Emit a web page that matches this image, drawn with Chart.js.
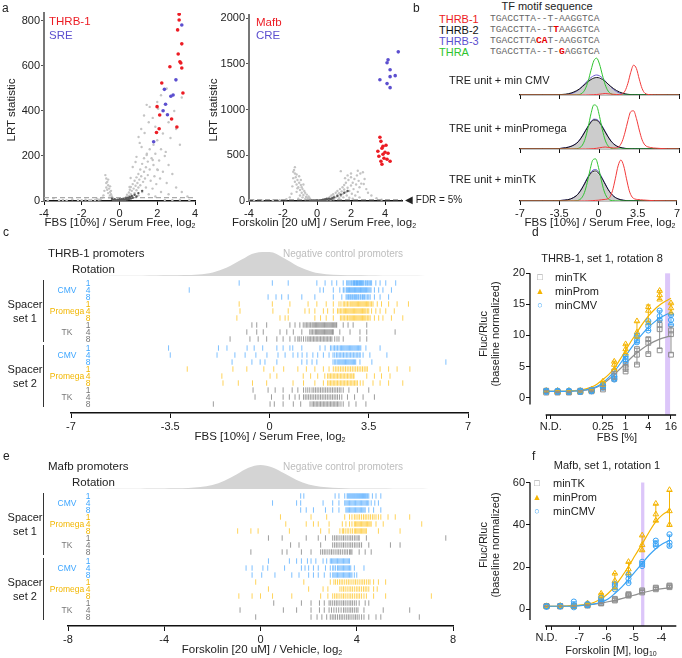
<!DOCTYPE html>
<html><head><meta charset="utf-8">
<script src="https://cdn.jsdelivr.net/npm/chart.js@4.4.1/dist/chart.umd.min.js"></script>
<style>
html,body{margin:0;padding:0;background:#fff}
#fig{position:relative;width:682px;height:658px;overflow:hidden;font-family:"Liberation Sans",Arial,sans-serif;color:#222}
#fig canvas{position:absolute}
.t{position:absolute;white-space:nowrap;font-size:11px;line-height:1}
.mono{font-family:"Liberation Mono","DejaVu Sans Mono",monospace;font-size:9.6px;color:#666}
sub{font-size:7px;vertical-align:-2px;line-height:0}
</style></head><body><div id="fig"></div><script>
// ---------- panel a: volcano points [log2 fold change, LRT] ----------
const fbsGray = [[-0.3,5],[-0.35,12],[-0.4,20],[-0.45,30],[-0.5,40],[-0.5,25],[-0.55,55],[-0.55,15],[-0.6,70],[-0.6,35],[-0.65,85],[-0.65,50],[-0.7,100],[-0.7,60],[-0.75,115],[-0.7,80],[-0.8,45],[-0.85,25],[-0.9,15],[-1.0,8],[-1.2,10],[-1.5,5],[-2.0,3],[-2.5,8],[-3.0,5],[-3.5,12],[-1.8,6],[-0.45,45],[-0.6,95],[-0.5,65],
  [0.3,8],[0.35,18],[0.4,28],[0.45,12],[0.5,38],[0.5,22],[0.55,50],[0.6,30],[0.6,62],[0.65,45],[0.7,75],[0.7,20],[0.75,55],[0.8,90],[0.8,35],[0.85,68],[0.9,105],[0.9,48],[0.95,80],[1.0,120],[1.0,60],[1.0,25],[1.05,95],[1.1,140],[1.1,70],[1.15,110],[1.2,165],[1.2,40],[1.25,85],[1.3,130],[1.3,190],[1.35,100],[1.4,60],[1.4,150],[1.45,210],[1.5,115],[1.5,175],[1.55,30],[1.6,140],[1.6,230],[1.65,90],[1.7,190],[1.75,55],[1.8,160],[1.8,250],[1.85,110],[1.9,210],[1.95,75],[2.0,140],[2.0,270],[2.1,180],[2.15,100],[2.2,230],[2.3,130],[2.4,200],[2.5,80],[2.6,160],[2.8,120],[3.0,60],[3.3,40],[3.6,20],[2.2,40],[1.9,20],[2.6,30],
  [0.53,62],[0.59,102],[0.7,151],[0.85,173],[0.9,196],[1.01,284],[1.07,258],[1.17,240],[1.33,302],[1.44,427],[1.6,418],[1.76,369],[1.44,204],[1.76,182],[2.03,138],[2.45,218],[1.3,380],[1.55,350],[1.9,330],[2.0,440],[2.2,470],[2.3,300],[2.6,350],[2.7,280],[2.9,400],[3.0,320],[3.2,250],[2.5,500],[3.3,460],[1.15,320],[2.05,410],
  [-3.8,2],[-3.2,3],[-2.8,2],[-2.2,4],[-1.6,3],[-1.3,4],[-1.1,6],[2.4,5],[2.8,4],[3.2,6],[3.7,3]];
const fbsDark = [[-0.3,2],[-0.2,4],[-0.15,1],[-0.1,6],[-0.05,3],[0,2],[0.05,5],[0.1,8],[0.1,1],[0.15,4],[0.2,10],[0.25,6],[0.3,3],[0.35,12],[0.4,7],[0.45,15],[0.5,9],[0.55,18],[0.6,11],[0.65,22],[0.7,14],[0.8,28],[0.9,20],[1.0,35],[1.2,45],[-0.25,8],[-0.35,5],[-0.4,10],[0,8],[0.2,2]];
const fbsThrb1 = [[3.16,830],[3.16,804],[3.08,760],[3.3,698],[3.11,653],[3.2,618],[3.25,613],[3.3,591],[2.67,596],[2.24,524],[3.36,480],[1.99,419],[2.13,382],[2.1,321],[1.96,304],[2.76,364],[3.04,329]];
const fbsSre = [[3.3,782],[2.99,538],[2.38,496],[2.84,471],[2.72,465],[2.44,430],[2.31,401],[2.54,383],[1.81,263]];
const fskGray = [[-0.3,8],[-0.4,20],[-0.45,35],[-0.5,50],[-0.55,30],[-0.6,70],[-0.65,45],[-0.7,90],[-0.7,20],[-0.75,110],[-0.8,65],[-0.85,130],[-0.85,40],[-0.9,150],[-0.9,90],[-0.95,175],[-1.0,120],[-1.0,60],[-1.05,200],[-1.1,150],[-1.1,25],[-1.15,230],[-1.2,180],[-1.2,100],[-1.25,260],[-1.3,300],[-1.3,210],[-1.35,340],[-1.3,370],[-1.4,250],[-1.45,160],[-1.5,80],[-1.2,290],[-1.05,270],[-1.4,320],[-1.6,40],[-1.8,20],[-2.2,10],[-2.6,5],[-3.2,4],[-3.7,2],[-0.95,230],[-1.15,140],[-0.8,180],
  [0.3,5],[0.4,12],[0.5,20],[0.6,10],[0.6,30],[0.7,25],[0.75,45],[0.8,15],[0.85,60],[0.9,35],[0.95,75],[1.0,50],[1.0,20],[1.1,90],[1.1,40],[1.2,65],[1.2,110],[1.3,30],[1.3,85],[1.35,130],[1.4,326],[1.4,55],[1.45,105],[1.5,150],[1.5,75],[1.55,40],[1.6,125],[1.6,175],[1.7,95],[1.7,200],[1.75,60],[1.8,145],[1.85,230],[1.9,110],[1.9,35],[2.0,170],[2.0,260],[2.05,80],[2.1,200],[2.15,130],[2.2,240],[2.25,60],[2.3,180],[2.35,280],[2.4,100],[2.45,220],[2.5,150],[2.55,300],[2.6,190],[2.7,315],[2.75,185],[2.8,240],[2.9,130],[3.0,90],[3.2,60],[3.5,30],[3.8,15],[2.5,40],[2.1,25],[1.65,250],[2.4,330],[2.0,300],[1.8,280]];
const fskDark = [[-0.2,2],[-0.1,4],[0,1],[0,5],[0.1,3],[0.15,7],[0.2,2],[0.25,10],[0.3,4],[0.35,14],[0.4,8],[0.45,18],[0.5,12],[0.55,22],[0.6,16],[0.7,26],[0.8,20],[0.9,30],[1.0,40],[1.2,55],[1.4,70],[1.6,90],[1.8,110],[-0.3,6],[-0.4,3]];
const fskMafb = [[3.7,696],[3.76,652],[3.88,598],[4.06,609],[3.82,576],[3.58,543],[4.0,533],[3.88,511],[4.18,522],[3.64,489],[3.94,467],[4.3,435],[3.76,435],[3.82,402],[4.12,457]];
const fskCre = [[4.78,1630],[4.18,1543],[4.12,1511],[4.3,1435],[4.6,1370],[4.3,1359],[3.7,1326],[4.12,1283],[4.3,1239]];
const fdrLrt = 15;
const volcanoTicksX = [-4, -2, 0, 2, 4];
const fbsTicksY = [0, 200, 400, 600, 800];
const fskTicksY = [0, 500, 1000, 1500, 2000];

// ---------- panel b: motifs and densities ----------
const motifNames = ['THRB-1', 'THRB-2', 'THRB-3', 'THRA'];
const motifSeqs = ['TGACCTTA--T-AAGGTCA', 'TGACCTTA--TTAAGGTCA', 'TGACCTTACAT-AAGGTCA', 'TGACCTTA--T-GAGGTCA'];
const motifHits = [[], [11], [8, 9], [12]];
const densRows = ['TRE unit + min CMV', 'TRE unit + minPromega', 'TRE unit + minTK'];
const densX = [-7,-5,-4,-3.5,-3,-2.5,-2,-1.75,-1.5,-1.25,-1,-0.75,-0.5,-0.25,0,0.25,0.5,0.75,1,1.25,1.5,1.75,2,2.25,2.5,2.75,3,3.25,3.5,3.75,4,4.5,5,6,7];
const densNeg = [
  [0,0,0,0.1,0.4,1.5,4.0,5.9,8.3,10.8,13.3,15.4,16.7,17,16.3,14.6,12.3,9.8,7.3,5.1,3.4,2.1,1.2,0.7,0.3,0.2,0.1,0,0,0,0,0,0,0,0],
  [0,0,0.1,0.3,0.8,2.0,5.2,8.4,12.6,17.6,22.5,26.7,28.8,28.5,26,21.7,16.5,11.6,7.4,4.4,2.4,1.4,0.8,0.5,0.3,0.2,0.1,0,0,0,0,0,0,0,0],
  [0,0,0.1,0.3,0.6,1.6,4.6,7.5,11.6,16.5,21.7,26,28.5,28.8,26.7,22.5,17.6,12.6,8.2,5.0,2.9,1.6,0.8,0.4,0.2,0.1,0,0,0,0,0,0,0,0,0]];
const densThrb2 = [
  [0,0,0.1,0.3,0.8,2.0,4.4,6.2,8.5,11,13.4,15.5,16.9,17.5,17,15.5,13.4,11,8.5,6.3,4.5,3,2,1.2,0.7,0.4,0.2,0.1,0,0,0,0,0,0,0],
  [0,0,0.2,0.5,1.2,2.6,5.8,8.9,13,17.8,22.6,26.8,29,28.7,26.3,22,17,12.2,8,5,3,1.8,1.1,0.6,0.4,0.2,0.1,0,0,0,0,0,0,0,0],
  [0,0,0.1,0.4,0.9,2,5,7.9,12,16.9,22.2,26.7,29.5,30,28,23.8,18.8,13.6,9.1,5.8,3.5,2.1,1.2,0.7,0.4,0.2,0.1,0,0,0,0,0,0,0,0]];
const densThrb3 = [
  [0,0,0,0.1,0.4,1.4,3.9,6.0,8.8,11.8,14.8,17.4,19.3,20,19.2,17.1,14,10.8,7.9,5.3,3.4,2,1.1,0.6,0.3,0.1,0,0,0,0,0,0,0,0,0],
  [0,0,0.2,0.5,1.3,2.8,6,9.2,13.4,18.3,23.2,27.5,29.8,29.6,27.2,22.8,17.6,12.6,8.3,5.2,3.1,1.9,1.1,0.6,0.4,0.2,0.1,0,0,0,0,0,0,0,0],
  [0,0,0.1,0.4,0.9,2,5.1,8.1,12.4,17.5,23,27.8,30.8,31.5,29.3,24.8,19.4,14,9.3,5.9,3.6,2.1,1.2,0.7,0.4,0.2,0.1,0,0,0,0,0,0,0,0]];
const densThra = [
  [0,0,0,0,0,0,0.1,0.5,2.1,6.1,13.9,24.7,34.2,36.8,30.9,20.2,10.3,4.1,1.3,0.3,0.1,0,0,0,0,0,0,0,0,0,0,0,0,0,0],
  [0,0,0,0,0,0,0.3,1.2,4.0,10.6,21.9,35.2,44.1,43,32.7,19.3,8.9,3.2,0.9,0.2,0,0,0,0,0,0,0,0,0,0,0,0,0,0,0],
  [0,0,0,0,0,0,0.2,0.9,3.1,8.5,18.5,31.2,41.1,42.1,33.7,20.9,10.1,3.8,1.1,0.3,0.1,0,0,0,0,0,0,0,0,0,0,0,0,0,0]];
const densThrb1 = [
  [0,0,0,0,0,0,0,0,0,0,0.1,0.2,0.3,0.5,0.8,1.2,1.5,1.2,0.9,0.7,0.5,0.4,1.0,4.1,11.7,22.6,29.8,26.5,15.9,6.5,1.8,0.3,0.1,0,0],
  [0,0,0,0,0,0,0,0,0,0,0.1,0.2,0.4,0.7,1.2,1.7,2.0,1.7,1.3,1.0,1.1,2.8,7.7,16.8,28.3,37.3,38.2,30.5,19,9.2,4.0,1.5,0.8,0.2,0],
  [0,0,0,0,0,0,0,0,0,0,0.1,0.2,0.4,0.6,0.8,1.2,1.5,1.9,3.5,10.2,22.2,35.1,41,35.1,22.2,10.2,4,2,1.5,1.2,1,0.6,0.3,0.1,0]];
const densTicks = [-7, -3.5, 0, 3.5, 7];

// ---------- panels c/e: per-promoter log2 ratios, rotations 1, 4, 8 ----------
const promoters = ['CMV', 'Promega', 'TK'];
const rotations = ['1', '4', '8'];
const thrbS1Cmv = [
  [-1.07,0.1,0.66,1.67,1.96,2.2,2.37,2.6,2.72,2.8,2.88,2.95,3.0,3.05,3.1,3.15,3.2,3.25,3.3,3.38,3.45,3.52,3.6,3.75,3.9,4.1,4.45,2.76,2.84,2.91,2.97,3.02,3.07,3.12,3.17,3.22,3.27,3.33,3.41,3.48,3.56],
  [-2.83,1.78,1.9,2.25,2.48,2.6,2.7,2.76,2.82,2.88,2.94,3.0,3.06,3.12,3.18,3.24,3.3,3.36,3.42,3.5,3.58,3.7,3.85,4.0,4.3,2.63,2.73,2.79,2.85,2.91,2.97,3.03,3.09,3.15,3.21,3.27,3.33,3.39,3.46,3.54],
  [-0.05,0.23,0.43,0.66,1.14,1.6,2.25,2.55,2.7,2.78,2.85,2.92,2.99,3.05,3.12,3.2,3.28,3.35,3.45,3.55,3.7,3.9,4.2,2.74,2.81,2.88,2.95,3.02,3.08,3.15,3.23,3.31,3.4,3.5]];
const thrbS1Prom = [
  [-1.07,0.1,0.72,1.36,1.67,2.0,2.25,2.45,2.6,2.7,2.8,2.9,2.98,3.06,3.14,3.22,3.3,3.38,3.46,3.55,3.65,3.8,3.95,4.2,4.5,4.9,2.52,2.65,2.75,2.85,2.94,3.02,3.1,3.18,3.26,3.34,3.42,3.5,3.6],
  [-1.04,0.12,0.66,1.25,1.4,1.6,1.9,2.05,2.25,2.4,2.5,2.6,2.68,2.76,2.84,2.92,3.0,3.08,3.16,3.24,3.32,3.4,3.5,3.6,3.75,3.9,4.1,4.4,2.45,2.55,2.64,2.72,2.8,2.88,2.96,3.04,3.12,3.2,3.28,3.36,3.45],
  [-1.15,0.37,0.55,0.66,1.6,1.8,2.0,2.25,2.5,2.6,2.7,2.8,2.88,2.96,3.04,3.12,3.2,3.28,3.36,3.45,3.55,3.7,3.85,4.0,4.3,4.7,2.55,2.65,2.75,2.84,2.92,3.0,3.08,3.16,3.24,3.32,3.4,3.5]];
const thrbS1Tk = [
  [-0.62,-0.45,-0.1,0.72,0.9,1.07,1.19,1.3,1.4,1.5,1.58,1.66,1.74,1.82,1.9,1.98,2.06,2.14,2.22,2.3,2.37,2.6,2.77,2.95,3.43,1.25,1.35,1.45,1.54,1.62,1.7,1.78,1.86,1.94,2.02,2.1,2.18,2.26,2.34],
  [-0.8,-0.45,-0.22,0.37,0.61,0.84,1.14,1.42,1.52,1.62,1.7,1.78,1.86,1.94,2.02,2.1,2.18,2.25,2.48,2.84,3.19,3.43,4.43,1.47,1.57,1.66,1.74,1.82,1.9,1.98,2.06,2.14,2.22],
  [-1.39,-0.69,-0.4,-0.1,0.26,0.48,0.72,0.9,1.05,1.2,1.35,1.45,1.55,1.65,1.75,1.85,1.95,2.05,2.15,2.3,2.45,2.6,3.19,3.43,1.0,1.12,1.28,1.4,1.5,1.6,1.7,1.8,1.9,2.0,2.1,2.2,2.38]];
const thrbS2Cmv = [
  [-3.56,-1.8,-1.5,-0.79,-0.54,-0.24,0.26,0.48,0.72,0.82,1.14,1.78,1.96,2.15,2.3,2.4,2.5,2.58,2.66,2.74,2.82,2.9,2.98,3.06,3.14,3.22,3.4,3.9,2.2,2.27,2.35,2.45,2.54,2.62,2.7,2.78,2.86,2.94,3.02,3.1,3.18],
  [-3.5,-1.85,-1.22,-0.86,-0.48,-0.09,0.3,0.55,0.83,1.0,1.15,1.32,1.53,1.7,1.9,2.1,2.24,2.36,2.46,2.56,2.66,2.76,2.86,2.96,3.06,3.16,3.3,3.54,4.14,2.3,2.41,2.51,2.61,2.71,2.81,2.91,3.01,3.11,3.2],
  [-1.32,-0.62,-0.33,-0.16,0.26,1.14,1.32,1.5,1.67,2.24,2.34,2.44,2.52,2.6,2.68,2.76,2.84,2.92,3.0,3.19,3.61,6.22,2.3,2.39,2.48,2.56,2.64,2.72,2.8,2.88,2.96,3.04]];
const thrbS2Prom = [
  [-2.9,-1.29,-0.8,-0.2,0.15,0.5,1.0,1.3,1.6,1.9,2.1,2.25,2.38,2.5,2.62,2.74,2.86,2.98,3.1,3.22,3.34,3.45,3.9,4.2,4.5,4.95,2.32,2.44,2.56,2.68,2.8,2.92,3.04,3.16,3.28,3.4],
  [-1.68,0.02,0.26,1.19,1.45,1.7,1.95,2.1,2.2,2.3,2.4,2.5,2.6,2.7,2.8,2.9,2.95,3.43,3.7,3.95,4.25,2.05,2.15,2.25,2.35,2.45,2.55,2.65,2.75,2.85,2.98],
  [-1.64,-1.1,-0.6,-0.1,0.83,1.2,1.6,1.9,2.1,2.2,2.3,2.4,2.5,2.6,2.7,2.8,2.9,3.0,3.1,3.3,3.65,3.9,4.2,4.7,2.05,2.15,2.25,2.35,2.45,2.55,2.65,2.75,2.85,2.95,3.05,3.2]];
const thrbS2Tk = [
  [-0.58,-0.05,0.2,0.48,0.8,1.0,1.2,1.35,1.5,1.62,1.74,1.86,1.98,2.1,2.22,2.34,2.46,2.6,2.8,3.1,3.5,1.28,1.42,1.56,1.68,1.8,1.92,2.04,2.16,2.28,2.4,2.52],
  [-0.51,0.07,0.48,0.7,0.9,1.05,1.2,1.32,1.44,1.56,1.68,1.8,1.92,2.04,2.16,2.28,2.4,2.55,2.75,3.0,3.3,3.7,1.26,1.38,1.5,1.62,1.74,1.86,1.98,2.1,2.22,2.34,2.47],
  [-1.98,0.02,0.17,0.48,0.84,1.1,1.43,1.55,1.65,1.75,1.85,1.95,2.05,2.15,2.25,2.35,2.45,2.6,2.8,3.05,3.4,1.5,1.6,1.7,1.8,1.9,2.0,2.1,2.2,2.3,2.4,2.52]];
const mafbS1Cmv = [
  [1.67,1.8,3.1,3.26,3.5,3.6,3.68,3.76,3.84,3.92,4.0,4.08,4.16,4.24,4.32,4.4,4.5,4.65,4.8,5.0,3.64,3.72,3.8,3.88,3.96,4.04,4.12,4.2,4.28,4.36,4.45],
  [0.5,1.5,1.67,2.6,3.0,3.26,3.5,3.6,3.7,3.8,3.9,4.0,4.1,4.2,4.3,4.4,4.5,4.6,4.75,4.9,3.55,3.65,3.75,3.85,3.95,4.05,4.15,4.25,4.35,4.45],
  [1.67,1.9,2.2,2.7,3.0,3.26,3.55,3.65,3.75,3.85,3.95,4.05,4.15,4.25,4.35,4.5,4.7,5.0,3.6,3.7,3.8,3.9,4.0,4.1,4.2,4.3]];
const mafbS1Prom = [
  [0.83,2.1,2.75,3.5,3.7,3.9,4.05,4.2,4.35,4.5,4.65,4.8,5.0,5.3,5.6,6.2,3.8,3.97,4.12,4.28,4.42,4.57,4.72,4.9],
  [1.05,1.9,2.2,2.4,2.85,3.4,3.55,3.7,3.9,4.0,4.1,4.2,4.3,4.4,4.5,4.6,4.8,5.1,6.7,3.8,3.95,4.05,4.15,4.25,4.35,4.45,4.55],
  [-0.95,-0.4,-0.1,1.2,2.5,2.85,3.3,3.45,3.6,3.75,3.9,4.0,4.1,4.2,4.3,4.4,4.9,5.8,3.4,3.52,3.67,3.82,3.95,4.05,4.15,4.25,4.35]];
const mafbS1Tk = [
  [0.33,0.9,1.9,2.4,2.7,3.0,3.15,3.3,3.45,3.6,3.75,3.9,4.05,4.4,7.7,3.08,3.22,3.38,3.52,3.68,3.82,3.97,4.1],
  [1.25,1.6,2.5,3.0,3.15,3.3,3.45,3.6,3.75,3.9,4.05,4.2,4.5,5.4,5.8,3.08,3.22,3.38,3.52,3.68,3.82,3.97,4.12],
  [-0.4,0.9,1.1,1.7,2.1,2.5,2.65,2.8,2.95,3.1,3.25,3.4,3.55,3.7,3.8,4.1,4.35,4.6,2.58,2.72,2.88,3.02,3.18,3.32,3.48,3.62,3.75]];
const mafbS2Cmv = [
  [0.33,1.2,1.5,1.7,1.95,2.1,2.3,2.6,2.75,2.9,3.0,3.1,3.2,3.3,3.4,3.5,3.6,3.7,2.95,3.05,3.15,3.25,3.35,3.45,3.55,3.65],
  [-0.6,-0.35,0.1,0.3,1.0,1.7,1.85,2.0,2.2,2.4,2.7,2.9,3.05,3.2,3.3,3.4,3.5,3.6,3.75,3.9,4.3,3.0,3.12,3.25,3.35,3.45,3.55,3.65,3.7],
  [-0.35,0.05,0.6,1.3,1.6,2.0,2.2,2.4,2.65,2.9,3.0,3.1,3.2,3.3,3.4,3.5,3.6,3.7,3.8,4.0,3.05,3.15,3.25,3.35,3.45,3.55,3.65,3.75,3.9]];
const mafbS2Prom = [
  [-0.2,1.8,2.9,3.05,3.2,3.35,3.5,3.65,3.8,3.95,4.1,4.25,4.4,4.55,4.7,4.9,5.2,3.12,3.28,3.42,3.58,3.72,3.88,4.02,4.18,4.32,4.48],
  [0.33,2.0,2.6,2.8,3.3,3.45,3.6,3.75,3.9,4.05,4.2,4.35,4.5,4.7,4.85,3.38,3.52,3.68,3.82,3.98,4.12,4.28,4.42],
  [-0.9,-0.35,0.0,0.5,1.3,2.5,2.8,3.0,3.15,3.3,3.45,3.6,3.75,3.9,4.05,4.2,4.4,4.7,5.2,7.1,3.08,3.22,3.38,3.52,3.68,3.82,3.98,4.12,4.3]];
const mafbS2Tk = [
  [0.55,1.7,2.1,2.45,2.65,2.85,3.0,3.15,3.3,3.45,3.6,3.75,3.9,4.1,4.35,4.5,2.92,3.08,3.22,3.38,3.52,3.68,3.82,3.98],
  [-0.85,0.95,1.5,2.1,2.45,2.65,2.85,3.05,3.25,3.45,3.6,3.75,3.9,4.05,4.3,5.1,6.2,2.95,3.15,3.35,3.52,3.68,3.82,3.98],
  [-0.2,2.1,2.35,2.55,2.75,2.9,3.05,3.2,3.35,3.5,3.65,3.8,3.95,4.1,4.3,4.5,4.8,5.0,6.6,2.98,3.12,3.28,3.42,3.58,3.72,3.88,4.02,4.2]];
const cNegX = [-7,-6.5,-6,-5.5,-5,-4.5,-4,-3.5,-3,-2.5,-2,-1.5,-1,-0.5,0,0.5,1,1.5,2,2.5,3,3.5,4,4.5,5,5.5,6,6.5,7];
const cNegY = [0.04,0.07,0.1,0.16,0.24,0.34,0.47,0.64,0.9,1.56,3.6,8.4,16.2,23.1,23.9,17.9,9.8,4.3,1.8,1.0,0.7,0.5,0.36,0.26,0.17,0.11,0.07,0.05,0.03];
const eNegX = [-8,-7.5,-7,-6.5,-6,-5.5,-5,-4.5,-4,-3.5,-3,-2.5,-2,-1.5,-1,-0.5,0,0.5,1,1.5,2,2.5,3,3.5,4,4.5,5,5.5,6,6.5,7,7.5,8];
const eNegY = [0.04,0.06,0.1,0.14,0.2,0.28,0.37,0.49,0.61,0.8,1.1,2.0,4.0,8.3,14.6,21.2,24.0,21.6,15.4,9.0,4.5,2.3,1.3,0.85,0.62,0.5,0.38,0.28,0.2,0.14,0.1,0.06,0.04];
const cTicks = [-7, -3.5, 0, 3.5, 7];
const eTicks = [-8, -4, 0, 4, 8];

// ---------- panel d: FBS dose (log2 %, -7 = N.D.), replicates ----------
const dX = [-7,-6,-5,-4,-3,-2,-1,0,1,2,3,4];
const dTk = [[1.0,0.8,1.1],[0.9,1.0,0.8],[0.9,1.0,0.8],[1.0,0.9,1.1],[1.2,1.0,1.1],[1.6,1.3,1.9],[4.2,3.0,3.5],[5.3,4.2,4.8],[7.8,6.9,5.3],[9.4,8.8,7.0],[11.7,11.0,7.6],[10.8,10.2,6.9]];
const dProm = [[1.0,1.1,0.9],[1.0,1.1,0.9],[1.0,1.1,0.9],[1.0,1.1,0.9],[1.2,1.3,1.1],[2.2,1.8,2.6],[5.8,5.3,4.5],[7.8,7.1,8.6],[12.3,10.5,9.8],[14.6,14.0,12.0],[17.2,16.5,15.8],[15.2,14.4,13.6]];
const dCmv = [[1.0,0.9,1.1],[1.0,0.9,1.1],[1.0,0.9,1.1],[1.0,0.9,1.1],[1.0,1.1,1.2],[1.8,1.6,2.0],[3.4,2.9,3.1],[6.6,5.8,6.2],[10.0,9.2,8.9],[12.3,11.5,10.8],[14.0,13.1,12.5],[13.3,12.5,11.7]];
const dFitX = [-7,-6.5,-6,-5.5,-5,-4.5,-4,-3.5,-3,-2.5,-2,-1.5,-1,-0.5,0,0.5,1,1.5,2,2.5,3,3.5,4];
const dFitTk = [1.0,1.0,1.0,1.0,1.0,1.05,1.1,1.2,1.35,1.7,2.2,2.9,3.7,4.6,5.5,6.4,7.2,7.9,8.5,9.0,9.4,9.7,9.9];
const dFitProm = [1.0,1.0,1.0,1.0,1.05,1.1,1.2,1.4,1.7,2.2,2.9,3.7,4.7,6.1,7.6,9.1,10.5,11.9,13.1,14.1,14.9,15.5,16.0];
const dFitCmv = [1.0,1.0,1.0,1.0,1.0,1.05,1.1,1.25,1.45,1.8,2.4,3.2,4.2,5.4,6.7,8.0,9.2,10.3,11.3,12.1,12.8,13.3,13.7];
const dBand = [3.48, 3.92];
const dTicksX = [-7, -6.6, -2, 0, 2, 4];
const dLabelsX = ['', 'N.D.', '0.25', '1', '4', '16'];
const dTicksY = [0, 5, 10, 15, 20];

// ---------- panel f: forskolin dose (log10 M, -8.2 = N.D.) ----------
const fX = [-8.2,-7.7,-7.2,-6.7,-6.2,-5.7,-5.2,-4.7,-4.2,-3.7];
const fTk = [[1.5,1.4,1.6],[1.5,1.6,1.4],[1.6,1.5,1.7],[2.0,1.8,2.2],[3.0,2.8,3.3],[4.6,4.2,5.0],[6.8,6.5,7.2],[8.5,8.0,9.0],[10.0,9.5,10.3],[11.0,10.5,11.3]];
const fProm = [[1.5,1.6,1.4],[1.6,1.5,1.7],[1.6,1.8,1.5],[2.5,2.2,2.9],[6.5,5.5,7.5],[13.5,10.0,17.0],[19.0,17.0,22.5],[35.0,28.0,30.5],[42.0,45.0,50.0],[56.5,46.5,40.0]];
const fCmv = [[1.4,1.5,1.3],[1.5,1.4,1.6],[3.7,1.0,2.0],[2.2,2.0,2.6],[4.5,3.8,5.5],[9.5,11.0,12.0],[14.5,12.5,16.5],[21.5,20.5,22.5],[31.0,30.0,32.5],[35.5,31.5,30.0]];
const fFitX = [-8.2,-7.95,-7.7,-7.45,-7.2,-6.95,-6.7,-6.45,-6.2,-5.95,-5.7,-5.45,-5.2,-4.95,-4.7,-4.45,-4.2,-3.95,-3.7];
const fFitTk = [1.5,1.5,1.5,1.6,1.7,1.9,2.1,2.5,3.0,3.6,4.3,5.1,6.0,6.9,7.8,8.6,9.3,9.8,10.2];
const fFitProm = [1.5,1.5,1.5,1.6,1.7,2.0,2.5,3.4,5.0,7.5,11.0,15.4,20.3,25.7,31.0,36.5,41.5,44.8,46.8];
const fFitCmv = [1.5,1.5,1.5,1.5,1.6,1.8,2.1,2.6,3.4,4.9,7.5,10.5,14.2,18.0,21.8,25.6,28.7,31.0,32.6];
const fBand = [-4.74, -4.62];
const fTicksX = [-8.2, -8.0, -7, -6, -5, -4];
const fLabelsX = ['N.D.', '', '-7', '-6', '-5', '-4'];
const fTicksY = [0, 20, 40, 60];

// ---------- styling ----------
const RED = '#ec1c24', PURPLE = '#5c4fcf', GREEN = '#2ec42e';
const rugCols = ['rgba(40,150,255,0.6)', 'rgba(255,188,0,0.65)', 'rgba(60,60,60,0.5)'];
const txtCols = ['#3ea6ff', '#f2b600', '#777'];
const doseTk = '#8f8f8f', doseProm = '#f5b400', doseCmv = '#3aa3f5';

Chart.defaults.font.family = '"Liberation Sans", Arial, sans-serif';
Chart.defaults.font.size = 11;
Chart.defaults.color = '#222';
Chart.defaults.animation = false;
Chart.defaults.responsive = false;
Chart.defaults.devicePixelRatio = 1;
Chart.defaults.plugins.legend.display = false;
Chart.defaults.plugins.tooltip.enabled = false;

const fig = document.getElementById('fig');
function canvasAt(l, t, w, h) {
  const c = document.createElement('canvas');
  c.width = w; c.height = h;
  c.style.left = l + 'px'; c.style.top = t + 'px';
  c.style.width = w + 'px'; c.style.height = h + 'px';
  fig.appendChild(c);
  return c;
}
function label(html, x, y, anchor, css) {
  const d = document.createElement('div');
  d.className = 't';
  const tr = {l: 'translate(0,-50%)', c: 'translate(-50%,-50%)', r: 'translate(-100%,-50%)', v: 'translate(-50%,-50%) rotate(-90deg)'}[anchor || 'l'];
  d.style.cssText = 'left:' + x + 'px;top:' + y + 'px;transform:' + tr + ';' + (css || '');
  d.innerHTML = html;
  fig.appendChild(d);
  return d;
}
function axis(min, max, ticks, labels, size, o) {
  o = o || {};
  return {
    type: 'linear', min: min, max: max,
    afterBuildTicks: s => { s.ticks = ticks.map(v => ({value: v})); },
    afterFit: s => { if (s.isHorizontal()) s.height = size; else s.width = size; },
    border: {display: o.border !== false, color: o.bc || '#111', width: o.bw || 1.2},
    grid: {drawOnChartArea: false, drawTicks: true, tickLength: o.tl || 4, color: o.tc || '#111', lineWidth: 1},
    ticks: {display: !!labels, autoSkip: false, maxRotation: 0, padding: o.pad == null ? 2 : o.pad, color: '#222',
      font: {size: o.fs || 11}, callback: (v, i) => labels ? labels[i] : ''}
  };
}
const pts = a => a.map(p => ({x: p[0], y: p[1]}));

// ---------- panel a ----------
function volcano(cv, grays, darks, reds, purples, xMax, yMax, yTicks, pad) {
  return new Chart(cv, {
    type: 'scatter',
    data: {datasets: [
      {data: pts(reds), pointRadius: 1.8, pointBackgroundColor: RED, pointBorderWidth: 0},
      {data: pts(purples), pointRadius: 1.8, pointBackgroundColor: PURPLE, pointBorderWidth: 0},
      {data: pts(darks), pointRadius: 1.2, pointBackgroundColor: '#5a5a5a', pointBorderWidth: 0},
      {data: [{x: -4, y: fdrLrt}, {x: xMax, y: fdrLrt}], showLine: true, pointRadius: 0, borderColor: '#aaa', borderWidth: 1.2, borderDash: [5, 3]},
      {data: pts(grays), pointRadius: 1.2, pointBackgroundColor: '#c4c4c4', pointBorderWidth: 0}
    ]},
    options: {
      layout: {padding: pad},
      scales: {
        x: axis(-4, xMax, volcanoTicksX, volcanoTicksX.map(String), 17, {bw: 1.5}),
        y: axis(0, yMax, yTicks, yTicks.map(String), 44, {bc: '#777', bw: 2, tc: '#555', tl: 3, pad: 1})
      }
    }
  });
}
volcano(canvasAt(0, 0, 210, 218), fbsGray, fbsDark, fbsThrb1, fbsSre, 4, 835, fbsTicksY, {top: 13, right: 15});
volcano(canvasAt(205, 0, 205, 218), fskGray, fskDark, fskMafb, fskCre, 5, 2033, fskTicksY, {top: 15, right: 8});

label('a', 2, 8, 'l', 'font-size:12px');
label('THRB-1', 49, 22, 'l', 'color:' + RED + ';font-size:11.5px');
label('SRE', 49, 36, 'l', 'color:' + PURPLE + ';font-size:11.5px');
label('LRT statistic', 12, 110, 'v', 'font-size:11.5px');
label('FBS [10%] / Serum Free, log<sub>2</sub>', 120, 223, 'c', 'font-size:11.5px');
label('Mafb', 256, 23, 'l', 'color:' + RED + ';font-size:11.5px');
label('CRE', 256, 36, 'l', 'color:' + PURPLE + ';font-size:11.5px');
label('LRT statistic', 214, 110, 'v', 'font-size:11.5px');
label('Forskolin [20 uM] / Serum Free, log<sub>2</sub>', 324, 223, 'c', 'font-size:11.5px');
label('&#9664; FDR = 5%', 405, 200, 'l', 'font-size:10px');

// ---------- panel b ----------
label('b', 413, 8, 'l', 'font-size:12px');
label('TF motif sequence', 547, 6, 'c');
const motifCols = [RED, '#111', PURPLE, GREEN];
motifNames.forEach((n, i) => {
  const y = 19 + i * 11;
  label(n, 439, y, 'l', 'color:' + motifCols[i]);
  const seq = motifSeqs[i].split('').map((ch, j) => motifHits[i].includes(j) ? '<b style="color:#e60000">' + ch + '</b>' : ch).join('');
  label(seq, 490, y, 'l').classList.add('mono');
});
function densityRow(cv, row, ymax, labels, xh, top) {
  const mk = arr => densX.map((x, i) => ({x: x, y: arr[row][i]}));
  new Chart(cv, {
    type: 'line',
    data: {datasets: [
      {data: mk(densThrb1), borderColor: '#f23a3a'},
      {data: mk(densThra), borderColor: GREEN},
      {data: mk(densThrb2), borderColor: '#111'},
      {data: mk(densThrb3), borderColor: '#6a5acd'},
      {data: mk(densNeg), borderColor: 'rgba(0,0,0,0)', backgroundColor: '#cccccc', fill: 'origin'}
    ]},
    options: {
      elements: {point: {radius: 0}, line: {borderWidth: 1, cubicInterpolationMode: 'monotone'}},
      layout: {padding: {left: 10, right: 3, top: top}},
      scales: {
        x: axis(-7, 7, densTicks, labels, xh, {bw: 1.2}),
        y: {type: 'linear', min: 0, max: ymax, display: false}
      }
    }
  });
}
densityRow(canvasAt(510, 50, 172, 50), 0, 40, null, 5, 5);
densityRow(canvasAt(510, 96, 172, 58), 1, 48, null, 5, 5);
densityRow(canvasAt(510, 150, 172, 67), 2, 46, ['-7', '-3.5', '0', '3.5', '7'], 16, 5);
label(densRows[0], 449, 80);
label(densRows[1], 449, 128);
label(densRows[2], 449, 179);
label('FBS [10%] / Serum Free, log<sub>2</sub>', 600, 223, 'c', 'font-size:11.5px');

// ---------- panels c / e ----------
const setGap = 9.29;
function rugPanel(dy, sets, negX, negY, xMin, xMax, ticks, left, right, title, xTitle, xTitleX) {
  new Chart(canvasAt(0, 248 + dy, 480, 30), {
    type: 'line',
    data: {datasets: [{data: negX.map((x, i) => ({x: x, y: negY[i]})), borderWidth: 0, borderColor: 'rgba(0,0,0,0)', backgroundColor: '#d4d4d4', fill: 'origin', pointRadius: 0, cubicInterpolationMode: 'monotone'}]},
    options: {layout: {padding: {left: left, right: 480 - right, top: 2, bottom: 2}},
      scales: {x: {type: 'linear', min: xMin, max: xMax, display: false}, y: {type: 'linear', min: 0, max: 26, display: false}}}
  });
  const ds = [];
  sets.forEach((set, si) => set.forEach((prom, pi) => prom.forEach((vals, ri) => {
    const pos = si * setGap + pi * 3 + ri;
    ds.push({data: vals.map(v => ({x: v, y: pos})), pointStyle: 'line', pointRotation: 90, pointRadius: 2.7,
      pointBorderColor: rugCols[pi], pointBorderWidth: 1});
  })));
  new Chart(canvasAt(0, 270 + dy, 482, 165), {
    type: 'scatter',
    data: {datasets: ds},
    options: {
      layout: {padding: {left: left, right: 482 - right, top: 9}},
      scales: {
        x: axis(xMin, xMax, ticks, ticks.map(String), 22, {bw: 1.5, tl: 5}),
        y: {type: 'linear', min: -0.57, max: 18.57, reverse: true, display: false}
      }
    }
  });
  const rowY = pos => 283 + dy + 7 * pos;
  label(title, 48, 254 + dy, 'l', 'font-size:11.5px');
  label('Rotation', 72, 270 + dy, 'l', 'font-size:11.5px');
  label('Negative control promoters', 283, 254 + dy, 'l', 'font-size:10px;color:#bdbdbd');
  [0, 1].forEach(si => {
    const y0 = rowY(si * setGap), y1 = rowY(si * setGap + 8);
    label('Spacer<br>set ' + (si + 1), 25, (y0 + y1) / 2, 'c', 'font-size:11px;text-align:center;line-height:1.3');
    const b = document.createElement('div');
    b.style.cssText = 'position:absolute;left:43px;top:' + (y0 - 3) + 'px;height:' + (y1 - y0 + 6) + 'px;border-left:1.5px solid #333';
    fig.appendChild(b);
    promoters.forEach((p, pi) => {
      label(p, 67, rowY(si * setGap + pi * 3 + 1), 'c', 'font-size:8.5px;color:' + txtCols[pi]);
      rotations.forEach((r, ri) => label(r, 88, rowY(si * setGap + pi * 3 + ri), 'c', 'font-size:8.5px;color:' + txtCols[pi]));
    });
  });
  label(xTitle, xTitleX, 437 + dy, 'c', 'font-size:11.5px');
}
rugPanel(0, [[thrbS1Cmv, thrbS1Prom, thrbS1Tk], [thrbS2Cmv, thrbS2Prom, thrbS2Tk]], cNegX, cNegY, -7, 7, cTicks, 71, 468,
  'THRB-1 promoters', 'FBS [10%] / Serum Free, log<sub>2</sub>', 270);
rugPanel(213, [[mafbS1Cmv, mafbS1Prom, mafbS1Tk], [mafbS2Cmv, mafbS2Prom, mafbS2Tk]], eNegX, eNegY, -8, 8, eTicks, 68, 453,
  'Mafb promoters', 'Forskolin [20 uM] / Vehicle, log<sub>2</sub>', 262);
label('c', 3, 232, 'l', 'font-size:12px');
label('e', 3, 456, 'l', 'font-size:12px');

// ---------- panels d / f ----------
function doseChart(cv, xs, tk, prom, cmv, fitX, fitTk, fitProm, fitCmv, sc) {
  const series = [
    {reps: cmv, fit: fitCmv, col: doseCmv, style: 'circle', r: 2.6},
    {reps: prom, fit: fitProm, col: doseProm, style: 'triangle', r: 3.2},
    {reps: tk, fit: fitTk, col: doseTk, style: 'rect', r: 3.4}
  ];
  const ds = [];
  series.forEach(s => ds.push({data: xs.flatMap((x, i) => s.reps[i].map(v => ({x: x, y: v}))), pointStyle: s.style,
    pointRadius: s.r, pointBorderColor: s.col, pointBackgroundColor: 'rgba(255,255,255,0)', pointBorderWidth: 1}));
  series.forEach(s => ds.push({data: fitX.map((x, i) => ({x: x, y: s.fit[i]})), showLine: true, pointRadius: 0,
    borderColor: s.col, borderWidth: 1.2, cubicInterpolationMode: 'monotone'}));
  const decor = {
    id: 'decor',
    beforeDatasetsDraw(c) {
      const {ctx, chartArea: a, scales: {x, y}} = c;
      const x0 = x.getPixelForValue(sc.band[0]), x1 = x.getPixelForValue(sc.band[1]), yt = y.getPixelForValue(sc.yLine[1]);
      ctx.save();
      ctx.fillStyle = 'rgba(196,160,245,0.6)';
      ctx.fillRect(x0, yt, x1 - x0, a.bottom - yt);
      ctx.restore();
    },
    afterDatasetsDraw(c) {
      const {ctx, scales: {x, y}} = c;
      ctx.save(); ctx.lineWidth = 1;
      series.forEach(s => xs.forEach((xv, i) => {
        const r = s.reps[i], m = r.reduce((p, q) => p + q, 0) / r.length;
        const sd = Math.sqrt(r.reduce((p, q) => p + (q - m) * (q - m), 0) / (r.length - 1));
        const px = x.getPixelForValue(xv), lo = y.getPixelForValue(m - sd), hi = y.getPixelForValue(m + sd);
        ctx.strokeStyle = s.col;
        ctx.beginPath();
        ctx.moveTo(px, lo); ctx.lineTo(px, hi);
        ctx.moveTo(px - 2.5, hi); ctx.lineTo(px + 2.5, hi);
        ctx.moveTo(px - 2.5, lo); ctx.lineTo(px + 2.5, lo);
        ctx.stroke();
      }));
      ctx.restore();
    },
    afterDraw(c) {
      const {ctx, chartArea: a, scales: {x, y}} = c;
      ctx.save(); ctx.strokeStyle = '#111'; ctx.lineWidth = 1.3;
      ctx.beginPath();
      ctx.moveTo(a.left, y.getPixelForValue(sc.yLine[1])); ctx.lineTo(a.left, y.getPixelForValue(sc.yLine[0]));
      ctx.moveTo(x.getPixelForValue(sc.xLine[0]), a.bottom); ctx.lineTo(x.getPixelForValue(sc.xLine[1]), a.bottom);
      ctx.stroke(); ctx.restore();
    }
  };
  new Chart(cv, {
    type: 'scatter',
    data: {datasets: ds},
    options: {
      layout: {padding: {top: 4, right: 3}},
      scales: {
        x: axis(sc.xr[0], sc.xr[1], sc.xt, sc.xl, 17, {border: false, pad: 1}),
        y: axis(sc.yr[0], sc.yr[1], sc.yt, sc.yt.map(String), 30, {border: false, pad: 1})
      }
    },
    plugins: [decor]
  });
}
doseChart(canvasAt(500, 262, 182, 170), dX, dTk, dProm, dCmv, dFitX, dFitTk, dFitProm, dFitCmv,
  {xr: [-8.43, 4.53], yr: [-2.81, 20.6], xt: dTicksX, xl: dLabelsX, yt: dTicksY, band: dBand, xLine: [-7.05, 4.45], yLine: [-1.1, 20]});
doseChart(canvasAt(500, 471, 182, 172), fX, fTk, fProm, fCmv, fFitX, fFitTk, fFitProm, fFitCmv,
  {xr: [-8.805, -3.425], yr: [-7.85, 61.85], xt: fTicksX, xl: fLabelsX, yt: fTicksY, band: fBand, xLine: [-8.25, -3.45], yLine: [-5, 60]});

function doseText(p) {
  label(p.letter, 532, p.letterY, 'l', 'font-size:12px');
  label(p.title, p.titleX, p.titleY, 'c');
  label('Fluc/Rluc', 483, p.yTitleY, 'v');
  label('(baseline normalized)', 495, p.yTitleY, 'v');
  label(p.xTitle, p.xTitleX, p.xTitleY, 'c');
  [['&#9633;', doseTk, 'minTK'], ['&#9650;', doseProm, 'minProm'], ['&#9675;', doseCmv, 'minCMV']].forEach((e, i) => {
    label(e[0], p.mx, p.legY + i * 14, 'c', 'font-size:9px;color:' + e[1]);
    label(e[2], p.tx, p.legY + i * 14, 'l');
  });
}
doseText({letter: 'd', letterY: 232, title: 'THRB-1, set 1, rotation 8', titleX: 602, titleY: 258, yTitleY: 334,
  xTitle: 'FBS [%]', xTitleX: 617, xTitleY: 437, legY: 277, mx: 540, tx: 555});
doseText({letter: 'f', letterY: 456, title: 'Mafb, set 1, rotation 1', titleX: 607, titleY: 465, yTitleY: 545,
  xTitle: 'Forskolin [M], log<sub>10</sub>', xTitleX: 611, xTitleY: 650, legY: 483, mx: 537, tx: 553});
</script></body></html>
